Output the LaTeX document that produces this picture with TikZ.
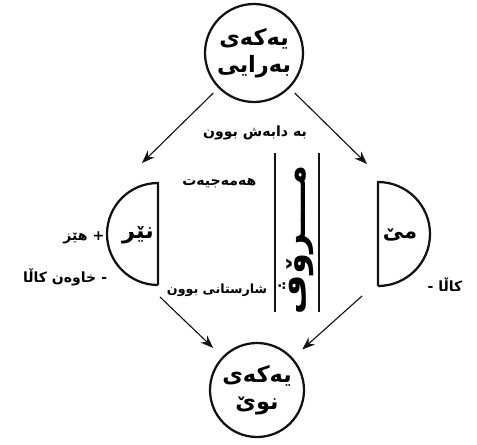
\documentclass[tikz,border=0pt]{standalone}
\usepackage{fontspec}
\usepackage{tikz}
\usetikzlibrary{arrows.meta,positioning,calc}
\TeXXeTstate=1
\newfontfamily\kurdfont[Script=Arabic]{DejaVu Sans}
\definecolor{inkblack}{HTML}{121212}
\tikzstyle{arrow} = [-{Stealth[length=3.2mm,width=2.4mm]}, thick, inkblack]
\tikzstyle{unit} = [circle, draw=inkblack, line width=1.6pt, align=center, inner sep=0pt, font=\kurdfont\bfseries\fontsize{16}{21}\selectfont]
\tikzstyle{kurdtext} = [inner sep=1pt, font=\kurdfont\bfseries\fontsize{10}{12}\selectfont]
\tikzstyle{halfdisc} = [draw=inkblack, line width=1.6pt]

\begin{document}
\begin{tikzpicture}
\useasboundingbox (0,0) rectangle (11.925,11.1);
\fill[white] (0,0) rectangle (11.925,11.1);

% primary and new unit
\node[unit, minimum size=2.45cm] (firstunit) at (6.35,9.775) {\beginR یەکەی\endR\\[-2pt]\beginR بەرایی\endR};
\node[unit, minimum size=2.35cm] (newunit) at (6.425,1.35) {\beginR یەکەی\endR\\[-2pt]\beginR نوێ\endR};
\node[kurdtext] (division) at (6.375,7.775) {\beginR بە دابەش بوون\endR};

% male and female halves
\draw[halfdisc] (3.95,3.975) -- (3.95,6.525) arc[start angle=90, end angle=270, radius=1.275];
\draw[halfdisc] (9.45,3.95) -- (9.45,6.55) arc[start angle=90, end angle=-90, radius=1.3];
\node[kurdtext, font=\kurdfont\bfseries\fontsize{16}{20}\selectfont] (male) at (3.45,5.225) {\beginR نێر\endR};
\node[kurdtext, font=\kurdfont\bfseries\fontsize{15}{20}\selectfont] (female) at (10.0,5.225) {\beginR مێ\endR};
\node[kurdtext, anchor=east] (power) at (2.65,5.15) {\beginR + هێز\endR};
\node[kurdtext, anchor=east] (owner) at (2.72,4.175) {\beginR - خاوەن کاڵا\endR};
\node[kurdtext, anchor=west] (goods) at (10.65,3.975) {\beginR کاڵا -\endR};

% the human column
\draw[inkblack, line width=1pt] (6.875,7.275) -- (6.875,3.3);
\draw[inkblack, line width=1pt] (7.975,7.275) -- (7.975,3.3);
\node[rotate=90, inner sep=0pt, font=\kurdfont\bfseries\fontsize{24}{28}\selectfont] (human) at (7.4,5.1) {\beginR مــــرۆڤ\endR};
\node[kurdtext, anchor=east] (savage) at (6.45,6.525) {\beginR هەمەجیەت\endR};
\node[kurdtext, anchor=east, font=\kurdfont\bfseries\fontsize{9}{12}\selectfont] (civil) at (6.72,3.85) {\beginR شارستانی بوون\endR};

% arrow ends
\coordinate (maletop) at (3.55,7.025);
\coordinate (femaletop) at (9.175,7.0);
\coordinate (malebottom) at (4.0,3.675);
\coordinate (femalebottom) at (9.05,3.7);

\draw[arrow, shorten <=5pt] (firstunit) -- (maletop);
\draw[arrow, shorten <=5pt] (firstunit) -- (femaletop);
\draw[arrow, shorten >=9pt] (malebottom) -- (newunit);
\draw[arrow, shorten >=9pt] (femalebottom) -- (newunit);
\end{tikzpicture}
\end{document}
